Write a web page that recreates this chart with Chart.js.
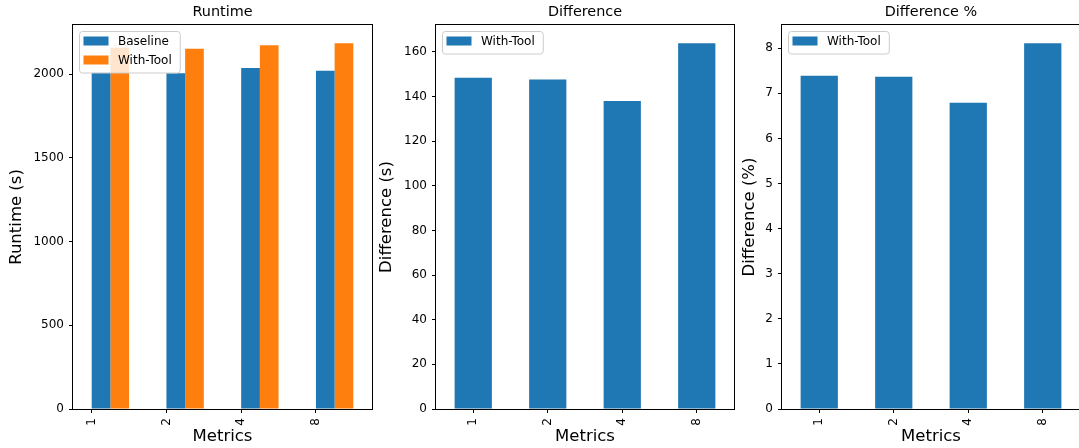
<!DOCTYPE html>
<html>
<head>
<meta charset="utf-8">
<script src="https://cdn.jsdelivr.net/npm/chart.js@4.4.1/dist/chart.umd.min.js"></script>
<style>
  html, body { margin: 0; padding: 0; background: #fff; overflow: hidden; }
  canvas { position: absolute; top: 0; }
</style>
</head>
<body>
<canvas id="runtime" width="380" height="448" style="left:0px"></canvas>
<canvas id="diff" width="364" height="448" style="left:376px"></canvas>
<canvas id="pct" width="340" height="448" style="left:740px"></canvas>
<script>
// data
const metrics = ['1', '2', '4', '8'];
const baseline = [2010, 2005, 2036, 2020];
const withTool = [2158, 2152, 2173, 2184];
const difference = [148.4, 147.6, 137.9, 163.8];
const differencePct = [7.39, 7.37, 6.79, 8.11];

// tick labels
const runtimeTicks = [0, 500, 1000, 1500, 2000];
const diffTicks = [0, 20, 40, 60, 80, 100, 120, 140, 160];
const pctTicks = [0, 1, 2, 3, 4, 5, 6, 7, 8];

const BLUE = '#1f77b4';
const ORANGE = '#ff7f0e';
const FONT = 'DejaVu Sans';

// frame, title and legend drawn like matplotlib
const framePlugin = {
    id: 'frame',
    afterDraw(chart, args, opts) {
        const { ctx, chartArea: a } = chart;
        ctx.save();

        // legend (inside the axes, upper left)
        const items = chart.data.datasets.map(d => ({ label: d.label, color: d.backgroundColor }));
        ctx.font = '12px "' + FONT + '"';
        const tw = Math.max(...items.map(it => ctx.measureText(it.label).width));
        const x0 = a.left + 6, y0 = a.top + 6;
        const w = 4 + 25 + 10 + tw + 8;
        const h = 10 + (items.length - 1) * 19 + 12.5;
        ctx.beginPath();
        ctx.roundRect(x0 + 0.5, y0 + 0.5, w, h, 3);
        ctx.fillStyle = 'rgba(255,255,255,0.8)';
        ctx.fill();
        ctx.strokeStyle = '#cccccc';
        ctx.lineWidth = 1;
        ctx.stroke();
        items.forEach((it, i) => {
            const cy = y0 + 10 + i * 19;
            ctx.fillStyle = it.color;
            ctx.fillRect(x0 + 4.5, cy - 4.5, 25, 9);
            ctx.fillStyle = '#000';
            ctx.textAlign = 'left';
            ctx.textBaseline = 'middle';
            ctx.fillText(it.label, x0 + 39, cy + 0.5);
        });

        // axes frame
        ctx.strokeStyle = '#000';
        ctx.lineWidth = 1;
        ctx.strokeRect(a.left - 0.5, a.top - 0.5, a.right - a.left + 1, a.bottom - a.top + 1);

        // title
        ctx.font = '14.4px "' + FONT + '"';
        ctx.fillStyle = '#000';
        ctx.textAlign = 'center';
        ctx.textBaseline = 'middle';
        ctx.fillText(opts.title, (a.left + a.right) / 2, 12);
        ctx.restore();
    }
};

function makeChart(id, cfg) {
    const yMax = Math.max(...cfg.datasets.flatMap(d => d.data)) * 1.05;
    return new Chart(document.getElementById(id), {
        type: 'bar',
        data: {
            labels: metrics,
            datasets: cfg.datasets.map(d => ({
                label: d.label,
                data: d.data,
                backgroundColor: d.color,
                borderWidth: 0,
                barPercentage: 1,
                categoryPercentage: 0.5,
                xAxisID: 'x',
                yAxisID: 'y'
            }))
        },
        options: {
            responsive: false,
            animation: false,
            layout: { padding: { left: 0, right: cfg.rightPad, top: 25, bottom: 0 } },
            plugins: {
                legend: { display: false },
                tooltip: { enabled: false },
                frame: { title: cfg.title }
            },
            scales: {
                x: { type: 'category', display: false, offset: true },
                // visible axis carrying the matplotlib-style ticks
                xt: {
                    type: 'linear',
                    position: 'bottom',
                    offset: false,
                    min: cfg.xMin,
                    max: cfg.xMin + metrics.length,
                    afterBuildTicks: s => { s.ticks = metrics.map((m, i) => ({ value: i })); },
                    afterFit: s => { s.height = 39; },
                    grid: { offset: false, drawOnChartArea: false, drawTicks: true, tickLength: 4, color: '#000' },
                    border: { display: false },
                    ticks: {
                        autoSkip: false,
                        minRotation: 90,
                        maxRotation: 90,
                        padding: 5,
                        color: '#000',
                        font: { family: FONT, size: 12 },
                        callback: (v, i) => metrics[i]
                    },
                    title: {
                        display: true, text: 'Metrics', color: '#000',
                        font: { family: FONT, size: 16.5 },
                        padding: { top: 0, bottom: 1 }
                    }
                },
                y: {
                    min: 0,
                    max: yMax,
                    afterBuildTicks: s => { s.ticks = cfg.yTicks.map(v => ({ value: v })); },
                    afterFit: s => { s.width = cfg.axisW; },
                    grid: { drawOnChartArea: false, drawTicks: true, tickLength: 4, color: '#000' },
                    border: { display: false },
                    ticks: {
                        padding: 5,
                        color: '#000',
                        font: { family: FONT, size: 12 },
                        callback: v => String(v)
                    },
                    title: {
                        display: true, text: cfg.yLabel, color: '#000',
                        font: { family: FONT, size: 16.5 },
                        padding: { top: cfg.yTitlePad, bottom: 0 }
                    }
                }
            }
        },
        plugins: [framePlugin]
    });
}

makeChart('runtime', {
    title: 'Runtime',
    yLabel: 'Runtime (s)',
    yTicks: runtimeTicks,
    xMin: -0.25,
    axisW: 73, rightPad: 8, yTitlePad: 7,
    datasets: [
        { label: 'Baseline', data: baseline, color: BLUE },
        { label: 'With-Tool', data: withTool, color: ORANGE }
    ]
});

makeChart('diff', {
    title: 'Difference',
    yLabel: 'Difference (s)',
    yTicks: diffTicks,
    xMin: -0.5,
    axisW: 60, rightPad: 6, yTitlePad: 1,
    datasets: [{ label: 'With-Tool', data: difference, color: BLUE }]
});

makeChart('pct', {
    title: 'Difference %',
    yLabel: 'Difference (%)',
    yTicks: pctTicks,
    xMin: -0.5,
    axisW: 42, rightPad: 0, yTitlePad: 0,
    datasets: [{ label: 'With-Tool', data: differencePct, color: BLUE }]
});
</script>
</body>
</html>
